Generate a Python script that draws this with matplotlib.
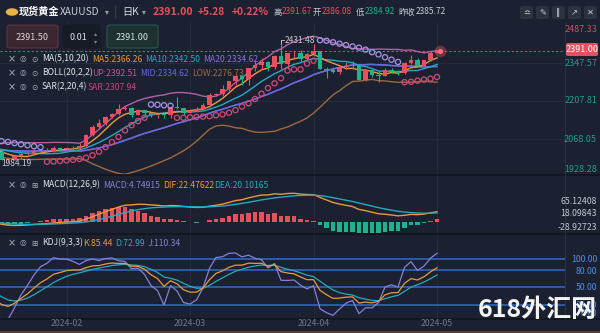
import numpy as np
import matplotlib
matplotlib.use("Agg")
import matplotlib.pyplot as plt
from matplotlib.patches import Rectangle, FancyBboxPatch

plt.rcParams["font.family"] = ["Noto Sans CJK SC", "DejaVu Sans"]

# daily XAUUSD, 2024-01-02 .. 2024-05-16 (rows before 2024-02-13 only warm up the indicators)
opens = [2063, 2059, 2042, 2043, 2045, 2028, 2030, 2024, 2029, 2049, 2055, 2028, 2006, 2023, 2029, 2021,
         2029, 2014, 2021, 2018, 2033, 2037, 2039, 2054, 2039, 2025, 2035, 2035, 2034, 2024, 2020,
         1992, 1992, 2004, 2013, 2017, 2024, 2025, 2024, 2035, 2031, 2034, 2034,
         2044, 2083, 2114, 2128, 2148, 2160, 2179, 2182, 2158, 2174, 2162, 2155, 2160, 2157, 2186, 2181,
         2165, 2171, 2178, 2194, 2230,
         2233, 2251, 2280, 2300, 2290, 2330, 2339, 2352, 2333, 2372, 2344, 2383, 2383, 2361, 2379, 2391,
         2327, 2322, 2316, 2332, 2337, 2335,
         2286, 2320, 2304, 2301, 2323, 2314, 2309, 2346, 2360, 2336, 2358, 2386.08]
highs = [2079, 2065, 2055, 2064, 2047, 2041, 2040, 2040, 2063, 2062, 2059, 2031, 2027, 2035, 2030, 2038,
         2036, 2023, 2026, 2036, 2043, 2055, 2058, 2065, 2040, 2038, 2044, 2042, 2037, 2033, 2031,
         1999, 2009, 2016, 2022, 2031, 2033, 2035, 2041, 2039, 2038, 2042, 2052,
         2088, 2120, 2141, 2152, 2165, 2195, 2189, 2185, 2180, 2176, 2168, 2164, 2163, 2188, 2222, 2182,
         2177, 2185, 2199, 2236, 2236,
         2265, 2283, 2305, 2304, 2331, 2354, 2365, 2354, 2378, 2431.48, 2384, 2392, 2395, 2385, 2418,
         2393, 2334, 2333, 2339, 2352, 2354, 2336,
         2326, 2327, 2319, 2331, 2331, 2322, 2351, 2378, 2365, 2359, 2392, 2391.67]
lows = [2057, 2030, 2035, 2024, 2016, 2025, 2022, 2013, 2027, 2047, 2025, 2002, 2005, 2017, 2016, 2011,
        2011, 2009, 2011, 2012, 2030, 2031, 2031, 2030, 2014, 2021, 2031, 2027, 2020, 2017, 1990,
        1984.19, 1990, 1995, 2011, 2014, 2019, 2020, 2021, 2025, 2025, 2024, 2030,
        2039, 2078, 2110, 2121, 2145, 2155, 2174, 2150, 2156, 2154, 2148, 2146, 2146, 2146, 2180, 2155,
        2162, 2170, 2174, 2186, 2228,
        2228, 2245, 2266, 2268, 2265, 2318, 2325, 2319, 2326, 2326, 2324, 2366, 2356, 2360, 2372,
        2325, 2291, 2309, 2306, 2327, 2325, 2285,
        2282, 2297, 2277, 2298, 2310, 2303, 2307, 2344, 2333, 2335, 2354, 2384.92]
closes = [2059, 2042, 2043, 2045, 2028, 2030, 2024, 2029, 2049, 2055, 2028, 2006, 2023, 2029, 2021, 2029,
          2014, 2021, 2018, 2033, 2037, 2039, 2054, 2039, 2025, 2035, 2035, 2034, 2024, 2020, 1992,
          1992, 2004, 2013, 2017, 2024, 2025, 2024, 2035, 2031, 2034, 2034, 2044,
          2083, 2114, 2128, 2148, 2160, 2179, 2182, 2158, 2174, 2162, 2155, 2160, 2157, 2186, 2181, 2165,
          2171, 2178, 2194, 2230, 2233,
          2251, 2280, 2300, 2290, 2330, 2339, 2352, 2333, 2372, 2344, 2383, 2383, 2361, 2379, 2391, 2327,
          2322, 2316, 2332, 2337, 2335, 2286,
          2320, 2304, 2301, 2323, 2314, 2309, 2346, 2360, 2336, 2358, 2385.72, 2391.00]

month_labels = ["2024-02", "2024-03", "2024-04", "2024-05"]
month_idx = [40, 59, 78, 97]
price_ticks = [2487.33, 2347.57, 2207.81, 2068.05, 1928.28]
macd_ticks = ["65.12408", "18.09843", "-28.92723"]
kdj_levels = [100, 80, 50, 20]

o = np.array(opens, float)
h = np.array(highs, float)
l = np.array(lows, float)
c = np.array(closes, float)
n = len(c)
idx = np.arange(n)

BG = "#1b2130"
UP = "#e8505e"
DN = "#1fb28d"
GRID = "#262d3b"
W, H = 600, 333
PLOT_R = 565
X0 = 31 - 8 / 6.5
X1 = 31 + (PLOT_R - 8) / 6.5


def ma(a, k):
    out = np.full(len(a), np.nan)
    for i in range(k - 1, len(a)):
        out[i] = a[i - k + 1:i + 1].mean()
    return out


def ema(a, k):
    out = np.empty(len(a))
    out[0] = a[0]
    for i in range(1, len(a)):
        out[i] = out[i - 1] + 2.0 / (k + 1) * (a[i] - out[i - 1])
    return out


ma5, ma10, ma20 = ma(c, 5), ma(c, 10), ma(c, 20)
std20 = np.array([c[max(0, i - 19):i + 1].std() for i in range(n)])
boll_up, boll_low = ma20 + 2 * std20, ma20 - 2 * std20

dif = ema(c, 12) - ema(c, 26)
dea = ema(dif, 9)
hist = 2 * (dif - dea)

k_line = np.empty(n)
d_line = np.empty(n)
kp, dp = 50.0, 50.0
for i in range(n):
    lo = l[max(0, i - 8):i + 1].min()
    hi = h[max(0, i - 8):i + 1].max()
    rsv = (c[i] - lo) / (hi - lo) * 100 if hi > lo else 50
    kp = kp * 2 / 3 + rsv / 3
    dp = dp * 2 / 3 + kp / 3
    k_line[i], d_line[i] = kp, dp
j_line = 3 * k_line - 2 * d_line

sar = np.full(n, np.nan)
sar_up = np.zeros(n, bool)
up = c[4] >= c[0]
s = l[:4].min() if up else h[:4].max()
ep = h[:4].max() if up else l[:4].min()
af = 0.02
for i in range(4, n):
    if up and l[i] < s:
        up, s, ep, af = False, ep, l[i], 0.02
    elif not up and h[i] > s:
        up, s, ep, af = True, ep, h[i], 0.02
    sar[i], sar_up[i] = s, up
    if up and h[i] > ep:
        ep, af = h[i], min(af + 0.02, 0.2)
    elif not up and l[i] < ep:
        ep, af = l[i], min(af + 0.02, 0.2)
    s = s + af * (ep - s)
    s = min(s, l[i], l[i - 1]) if up else max(s, h[i], h[i - 1])

fig = plt.figure(figsize=(W / 100, H / 100), dpi=100, facecolor=BG)


def pane(top, bottom):
    ax = fig.add_axes([0, 1 - bottom / H, PLOT_R / W, (bottom - top) / H])
    ax.set_facecolor(BG)
    for sp in ax.spines.values():
        sp.set_visible(False)
    ax.set_xticks([])
    ax.set_yticks([])
    ax.set_xlim(X0, X1)
    for m in month_idx:
        ax.axvline(m, color=GRID, lw=0.6, zorder=0)
    return ax


def ftext(x, y, s, **kw):
    fig.text(x / W, 1 - y / H, s, va="center", **kw)


# ---- main pane
ax = pane(22, 175)
per_px = 139.76 / 38
ax.set_ylim(2207.81 - (175 - 101) * per_px, 2207.81 + (101 - 22) * per_px)
for p in price_ticks[1:4]:
    ax.axhline(p, color=GRID, lw=0.6, zorder=0)

vis = idx >= 30
col = np.where(c >= o, UP, DN)
ax.vlines(idx[vis], l[vis], h[vis], colors=col[vis], lw=0.8, zorder=3)
body = np.maximum(np.abs(c - o), 1.5)
ax.bar(idx[vis], body[vis], bottom=np.minimum(o, c)[vis], width=0.7, color=col[vis], zorder=4)

ax.plot(idx, ma20, color="#8f6fd6", lw=1.0, zorder=2)
ax.plot(idx, boll_up, color="#b55ea8", lw=1.0, zorder=2)
ax.plot(idx, ma20, color="#6468e6", lw=1.0, zorder=2)
ax.plot(idx, boll_low, color="#9b6a40", lw=1.0, zorder=2)
ax.plot(idx, ma10, color="#25a9c0", lw=1.0, zorder=2)
ax.plot(idx, ma5, color="#e89a3a", lw=1.0, zorder=2)
ax.scatter(idx[sar_up], sar[sar_up], s=14, facecolors="none", edgecolors="#d24a78", lw=0.9, zorder=5)
ax.scatter(idx[~sar_up], sar[~sar_up], s=14, facecolors="none", edgecolors="#a493e6", lw=0.9, zorder=5)

ax.axhline(c[-1], color="#c8505e", lw=0.8, ls=(0, (2, 2)), zorder=1)
ax.scatter([n - 1 + 0.4], [c[-1]], s=70, color="#ff5a6e", alpha=0.35, zorder=6, lw=0)
ax.scatter([n - 1 + 0.4], [c[-1]], s=14, color="#ff6b7a", zorder=6, lw=0)

imax = int(np.argmax(h))
ax.plot([imax, imax, imax + 0.5], [h[imax] - 10, h[imax], h[imax]], color="#c8cbd4", lw=0.6, zorder=6)
ax.text(imax + 0.6, h[imax], f"{h[imax]:.2f}", color="#c8cbd4", fontsize=6, va="center", zorder=6)
ax.text(29.9, 1984.19 - 8, "1984.19", color="#c8cbd4", fontsize=6, va="center", zorder=6)

# ---- MACD pane
axm = pane(176, 233)
mscale = 2.25
axm.set_ylim(-(233 - 221.5) * mscale, (221.5 - 176) * mscale)
axm.bar(idx, hist, width=0.7, color=np.where(hist >= 0, UP, DN), zorder=3)
axm.plot(idx, dif, color="#e89a3a", lw=1.0, zorder=4)
axm.plot(idx, dea, color="#25a9c0", lw=1.0, zorder=4)

# ---- KDJ pane
axk = pane(234, 318)
kscale = 0.569
axk.set_ylim(100 - (318 - 259) / kscale, 100 + (259 - 234) / kscale)
for lv in kdj_levels:
    axk.axhline(lv, color="#2f6cc4", lw=1.1, zorder=2)
axk.plot(idx, j_line, color="#8a7ed8", lw=0.9, zorder=3)
axk.plot(idx, d_line, color="#25a9c0", lw=0.9, zorder=3)
axk.plot(idx, k_line, color="#e89a3a", lw=0.9, zorder=3)

# pane separators and price axis rule
for y in (175.5, 233.5, 318.5):
    fig.add_artist(plt.Line2D([0, 1], [1 - y / H] * 2, color="#10141c", lw=1.2))
fig.add_artist(plt.Line2D([PLOT_R / W] * 2, [1 - 22 / H, 1 - 318 / H], color="#2a303c", lw=0.8))

# month labels
for m, lab in zip(month_idx, month_labels):
    xp = 8 + (m - 31) * 6.5
    ftext(xp, 324, lab, color="#6f7787", fontsize=6.3, ha="center")

# price axis labels
ftext(597, 30, "2487.33", color="#c05466", fontsize=6.5, ha="right")
for p, yp in zip(price_ticks[1:], [63, 101, 139, 169]):
    ftext(597, yp, f"{p:.2f}", color="#1f9f85", fontsize=6.5, ha="right")
fig.add_artist(FancyBboxPatch((566 / W, 1 - 56 / H), 32 / W, 13 / H, boxstyle="round,pad=0,rounding_size=0.004",
                              transform=fig.transFigure, fc="#e05260", ec="none"))
ftext(582, 49.5, "2391.00", color="white", fontsize=6.5, ha="center")

for t, yp in zip(macd_ticks, [202, 213, 228]):
    ftext(597, yp, t, color="#c2c6ce", fontsize=6.3, ha="right")
for t, yp in zip(["100.00", "80.00", "50.00", "20.00", "0.00"], [259, 271, 287, 305, 313]):
    ftext(597, yp, t, color="#4b8fe0", fontsize=6.3, ha="right")

# ---- header
fig.add_artist(plt.Circle((12 / W, 1 - 12 / H), 5.5 / W, transform=fig.transFigure, color="#e7b445"))
ftext(19, 12, "现货黄金", color="white", fontsize=7.3, weight="bold")
ftext(60, 12, "XAUUSD", color="#c9ccd4", fontsize=7.3)
ftext(105, 12, "▾", color="#9aa0aa", fontsize=5.5)
ftext(114, 12, "|", color="#4a505c", fontsize=7)
ftext(122, 12, "日K", color="#d8dbe2", fontsize=7.3)
ftext(142, 12, "▾", color="#9aa0aa", fontsize=5.5)
ftext(153, 12, "2391.00", color="#e8505e", fontsize=7.6, weight="bold")
ftext(198, 12, "+5.28", color="#e8505e", fontsize=7.3, weight="bold")
ftext(232, 12, "+0.22%", color="#e8505e", fontsize=7.3, weight="bold")
ftext(273, 12, "高", color="#c9ccd4", fontsize=6.0)
ftext(282, 12, "2391.67", color="#e8505e", fontsize=6.0)
ftext(313, 12, "开", color="#c9ccd4", fontsize=6.0)
ftext(322, 12, "2386.08", color="#e8505e", fontsize=6.0)
ftext(356, 12, "低", color="#c9ccd4", fontsize=6.0)
ftext(365, 12, "2384.92", color="#1fb28d", fontsize=6.0)
ftext(398, 12, "昨收", color="#c9ccd4", fontsize=6.0)
ftext(416, 12, "2385.72", color="#c9ccd4", fontsize=6.0)

for bx, g in zip([520, 536, 552, 568, 584], ["≏", "✎", "‖", "↗", "✕"]):
    fig.add_artist(FancyBboxPatch((bx / W, 1 - 19 / H), 13 / W, 13 / H, boxstyle="round,pad=0,rounding_size=0.005",
                                  transform=fig.transFigure, fc="#2c323e", ec="none"))
    ftext(bx + 6.5, 12.5, g, color="#c9ccd4", fontsize=6, ha="center", family=["DejaVu Sans"])

# input boxes
for (bx, bw, fc, ec, t) in [(7, 51, "#3a2732", "#5c3442", "2391.50"), (63, 37, "#161b26", "#161b26", "0.01"),
                            (107, 51, "#1c3130", "#2b5450", "2391.00")]:
    fig.add_artist(FancyBboxPatch((bx / W, 1 - 48 / H), bw / W, 23 / H, boxstyle="round,pad=0,rounding_size=0.006",
                                  transform=fig.transFigure, fc=fc, ec=ec, lw=0.8))
ftext(32.5, 37, "2391.50", color="#dfd6d9", fontsize=6.5, ha="center")
ftext(70, 37, "0.01", color="#dfe2e8", fontsize=6.5)
ftext(96, 33, "▴", color="#7d838e", fontsize=4.5, ha="center")
ftext(96, 41, "▾", color="#7d838e", fontsize=4.5, ha="center")
ftext(132.5, 37, "2391.00", color="#d8e6e3", fontsize=6.5, ha="center")


def legend_row(y, items, icon3="◉"):
    ftext(12, y, "×", color="#aab0ba", fontsize=7, ha="center", family=["DejaVu Sans"])
    ftext(23, y, "◎", color="#aab0ba", fontsize=5.5, ha="center", family=["DejaVu Sans"])
    ftext(34, y, icon3, color="#aab0ba", fontsize=5.5, ha="center", family=["DejaVu Sans"])
    for x, t, colr in items:
        ftext(x, y, t, color=colr, fontsize=6.2)


legend_row(59, [(42, "MA(5,10,20)", "#e2e4ea"), (92, "MA5:2366.26", "#e89a3a"),
                (145, "MA10:2342.50", "#25a9c0"), (203, "MA20:2334.62", "#8f6fd6")], "⊙")
legend_row(73, [(42, "BOLL(20,2,2)", "#e2e4ea"), (92, "UP:2392.51", "#c4579c"),
                (140, "MID:2334.62", "#6468e6"), (192, "LOW:2276.73", "#9b6a40")], "⊙")
legend_row(87, [(42, "SAR(2,20,4)", "#e2e4ea"), (88, "SAR:2307.94", "#c8457a")], "⊙")
legend_row(185, [(42, "MACD(12,26,9)", "#e2e4ea"), (103, "MACD:4.74915", "#8a7ed8"),
                 (163, "DIF:22.47622", "#e89a3a"), (214, "DEA:20.10165", "#25a9c0")], "⊞")
legend_row(243, [(42, "KDJ(9,3,3)", "#e2e4ea"), (83, "K:85.44", "#e89a3a"),
                 (115, "D:72.99", "#25a9c0"), (148, "J:110.34", "#8a7ed8")], "⊞")

ftext(597, 310, "618外汇网", color="#f4f4f4", fontsize=18, weight="bold", ha="right",
      family=["Noto Sans CJK SC"])
fig.add_artist(Rectangle((0, 0), 1, 2 / H, transform=fig.transFigure, fc="#5a3d30", ec="none"))

fig.savefig("out.png", dpi=100, facecolor=BG)
